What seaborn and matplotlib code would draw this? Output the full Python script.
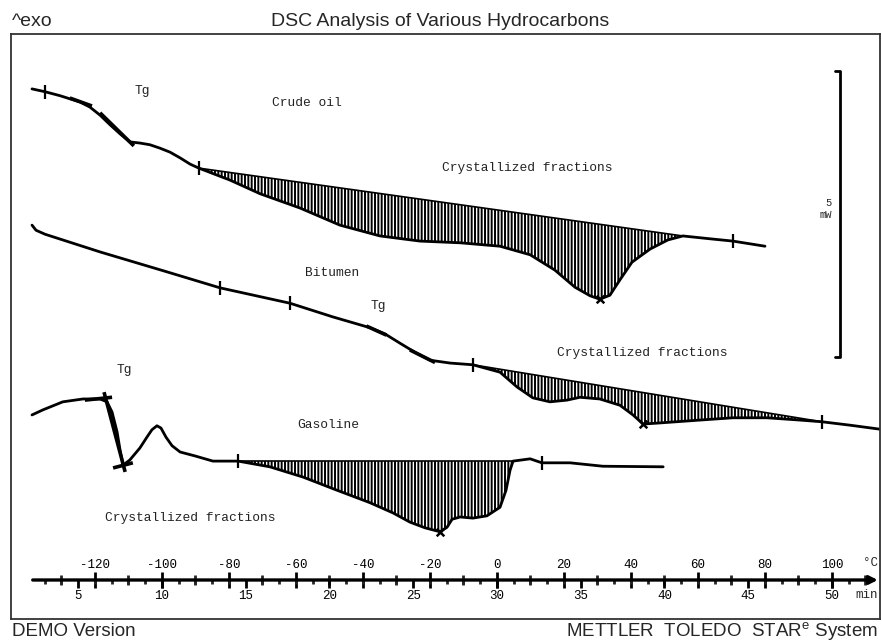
import numpy as np
import pandas as pd
import matplotlib
matplotlib.use("Agg")
import matplotlib.pyplot as plt
from matplotlib.ticker import FixedLocator, FormatStrFormatter
import seaborn as sns

# DSC curves: temperature (°C) vs heat flow (mW, curves offset)
# heating rate 5 K/min, start of run at -150 °C -> t = 30 + T/5

crude_T = [-138.8, -134.9, -130.4, -124.5, -121.5, -118.5, -115.5, -112.5, -109.6, -106.6,
           -103.6, -100.6, -97.6, -94.6, -91.6, -89.0, -79.7, -70.7, -58.8, -46.9,
           -34.9, -23.0, -11.0, 0.9, 9.9, 17.3, 23.3, 27.8, 30.7, 33.7,
           36.7, 40.3, 45.7, 51.0, 55.5, 63.6, 70.4, 80.0]
crude_hf = [9.30, 9.25, 9.18, 9.07, 8.98, 8.84, 8.67, 8.51, 8.37, 8.35,
            8.32, 8.26, 8.19, 8.09, 7.98, 7.91, 7.70, 7.46, 7.21, 6.91,
            6.72, 6.63, 6.60, 6.54, 6.39, 6.12, 5.82, 5.67, 5.61, 5.68,
            5.95, 6.26, 6.49, 6.65, 6.72, 6.67, 6.63, 6.54]
crude_area = (15, 34)      # index of integration start / end

bitumen_T = [-138.8, -137.6, -134.9, -118.5, -98.5, -82.7, -61.8, -49.0, -37.9, -33.4,
             -29.0, -24.5, -20.0, -14.0, -7.2, 0.9, 6.0, 10.7, 15.8, 20.9,
             24.8, 30.7, 36.7, 40.6, 43.6, 48.7, 60.6, 70.4, 80.6, 90.4,
             97.0, 105.4, 114.3]
bitumen_hf = [6.91, 6.82, 6.75, 6.44, 6.09, 5.81, 5.54, 5.30, 5.11, 5.00,
              4.84, 4.68, 4.54, 4.49, 4.46, 4.33, 4.07, 3.88, 3.81, 3.84,
              3.89, 3.86, 3.75, 3.58, 3.42, 3.44, 3.49, 3.53, 3.53, 3.49,
              3.46, 3.40, 3.33]
bitumen_area = (14, 30)

gasoline_T = [-138.8, -135.5, -129.6, -123.6, -118.5, -116.4, -114.9, -113.4, -112.5, -111.6,
              -109.6, -106.6, -104.5, -103.0, -101.5, -100.3, -98.8, -97.0, -94.6, -90.1,
              -84.8, -77.3, -67.8, -57.9, -47.8, -37.9, -31.0, -26.0, -21.5, -17.0,
              -14.9, -13.4, -11.0, -7.2, -3.0, 0.9, 2.7, 3.9, 4.8, 9.9,
              13.4, 21.8, 31.6, 49.6]
gasoline_hf = [3.58, 3.67, 3.81, 3.86, 3.86, 3.81, 3.63, 3.28, 2.96, 2.70,
               2.79, 3.00, 3.19, 3.32, 3.39, 3.35, 3.19, 3.04, 2.93, 2.86,
               2.77, 2.77, 2.67, 2.49, 2.26, 2.04, 1.86, 1.70, 1.60, 1.53,
               1.61, 1.75, 1.79, 1.77, 1.81, 1.96, 2.26, 2.61, 2.77, 2.81,
               2.74, 2.74, 2.68, 2.67]
gasoline_area = (21, 38)

# Tg evaluation tangents (T1, hf1, T2, hf2)
tg_tangents = [(-127.5, 9.14, -120.9, 9.00), (-118.5, 8.88, -108.4, 8.30),
               (-39.0, 5.14, -33.0, 4.98), (-26.0, 4.72, -18.5, 4.50),
               (-123.0, 3.84, -114.9, 3.89), (-117.3, 3.98, -111.0, 2.58),
               (-114.6, 2.65, -108.7, 2.74)]

# small limit ticks and peak marks on the curves
limit_T = [-89.0, 70.4, -7.2, 97.0, -77.3, 13.4, -82.7, -61.8, -134.9]
limit_hf = [7.91, 6.63, 4.46, 3.46, 2.77, 2.74, 5.81, 5.54, 9.25]
peak_T = [30.7, 43.6, -17.0]
peak_hf = [5.61, 3.42, 1.53]

labels = ["Tg", "Crude oil", "Crystallized fractions", "Bitumen", "Tg",
          "Crystallized fractions", "Tg", "Gasoline", "Crystallized fractions"]
label_T = [-106.0, -56.7, 9.0, -49.3, -35.5, 43.3, -111.3, -50.4, -91.6]
label_hf = [9.26, 9.05, 7.91, 6.07, 5.49, 4.67, 4.37, 3.40, 1.77]

temp_ticks = list(range(-120, 101, 20))
time_ticks = list(range(5, 51, 5))

sns.set_theme(style="white")
plt.rcParams["axes.unicode_minus"] = False
plt.rcParams["hatch.linewidth"] = 1.4
mono = ["Liberation Mono", "DejaVu Sans Mono"]
sans = ["Liberation Sans", "DejaVu Sans"]

fig = plt.figure(figsize=(8.82, 6.44), dpi=100)
ax = fig.add_axes([11 / 882, 25 / 644, 869 / 882, 585 / 644])
ax.set_xlim(-145.07, 114.33)
ax.set_ylim(0, 10.263)
ax.set_xticks([])
ax.set_yticks([])
for sp in ax.spines.values():
    sp.set_visible(True)
    sp.set_color("#333333")
    sp.set_linewidth(1.3)

curves = [(crude_T, crude_hf, crude_area),
          (bitumen_T, bitumen_hf, bitumen_area),
          (gasoline_T, gasoline_hf, gasoline_area)]
for T, hf, (i0, i1) in curves:
    T = np.array(T)
    hf = np.array(hf)
    # hatched crystallization area between curve and straight baseline
    px = np.concatenate([T[i0:i1 + 1], [T[i0]]])
    py = np.concatenate([hf[i0:i1 + 1], [hf[i0]]])
    ax.fill(px, py, facecolor="white", edgecolor="black", hatch="|||||", linewidth=0)
    ax.plot([T[i0], T[i1]], [hf[i0], hf[i1]], color="black", lw=1.2)
    df = pd.DataFrame({"T": T, "hf": hf})
    sns.lineplot(data=df, x="T", y="hf", ax=ax, color="black", lw=2.0,
                 sort=False, estimator=None)

for t1, h1, t2, h2 in tg_tangents:
    ax.plot([t1, t2], [h1, h2], color="black", lw=2.6, solid_capstyle="butt")

ax.scatter(limit_T, limit_hf, marker="|", s=110, color="black", linewidths=1.6, zorder=5)
ax.scatter(peak_T, peak_hf, marker="x", s=30, color="black", linewidths=1.8, zorder=5)

for txt, t, h in zip(labels, label_T, label_hf):
    ax.text(t, h, txt, ha="center", va="center", fontsize=9.3, family=mono, color="#222222")

# 5 mW scale bar
ax.plot([100.9, 102.4, 102.4, 100.9], [9.61, 9.61, 4.60, 4.60], color="black", lw=2.0)
ax.text(100.0, 7.30, "5", ha="right", va="center", fontsize=7.5, family=mono)
ax.text(100.0, 7.08, "mW", ha="right", va="center", fontsize=7.5, family=mono)

# temperature / time axis inside the frame
axis_pos = 39 / 585
ax.xaxis.set_visible(False)
secT = ax.secondary_xaxis(axis_pos)
secT.set_alignment("top")
secT.xaxis.set_major_locator(FixedLocator(temp_ticks))
secT.xaxis.set_minor_locator(FixedLocator(list(range(-130, 111, 20))))
secT.xaxis.set_major_formatter(FormatStrFormatter("%d"))
secT.tick_params(which="major", direction="inout", length=11, width=2.0, pad=1,
                 labelsize=9, colors="black")
secT.tick_params(which="minor", direction="inout", length=7, width=2.0)
for lab in secT.get_xticklabels():
    lab.set_family(mono)

secM = ax.secondary_xaxis(axis_pos, functions=(lambda T: 30 + T / 5.0,
                                                lambda t: (t - 30) * 5.0))
secM.xaxis.set_major_locator(FixedLocator(time_ticks))
secM.xaxis.set_minor_locator(FixedLocator(list(range(3, 52))))
secM.xaxis.set_major_formatter(FormatStrFormatter("%d"))
secM.tick_params(which="major", direction="out", length=6, width=2.0, pad=1,
                 labelsize=9, colors="black")
secM.tick_params(which="minor", direction="out", length=3, width=2.0)
for lab in secM.get_xticklabels():
    lab.set_family(mono)
for s in (secT, secM):
    for sp in s.spines.values():
        sp.set_visible(False)

ax.annotate("", xy=(0.9975, axis_pos), xytext=(0.025, axis_pos),
            xycoords="axes fraction",
            arrowprops=dict(arrowstyle="-|>", lw=2.4, color="black",
                            mutation_scale=12, shrinkA=0, shrinkB=0))
ax.text(0.989, 0.0957, "°C", transform=ax.transAxes, ha="center", va="center",
        fontsize=9, family=mono)
ax.text(0.985, 0.041, "min", transform=ax.transAxes, ha="center", va="center",
        fontsize=9, family=mono)

fig.text(12 / 882, 1 - 21 / 644, "^exo", ha="left", va="center", fontsize=14, family=sans)
fig.text(440 / 882, 1 - 21 / 644, "DSC Analysis of Various Hydrocarbons",
         ha="center", va="center", fontsize=14, family=sans)
fig.text(12 / 882, 1 - 632 / 644, "DEMO Version", ha="left", va="center",
         fontsize=13.5, family=sans)
fig.text(878 / 882, 1 - 632 / 644, "METTLER  TOLEDO  STAR$^\\mathregular{e}$ System",
         ha="right", va="center", fontsize=13.5, family=sans)

fig.savefig("out.png", dpi=100, facecolor="white")
